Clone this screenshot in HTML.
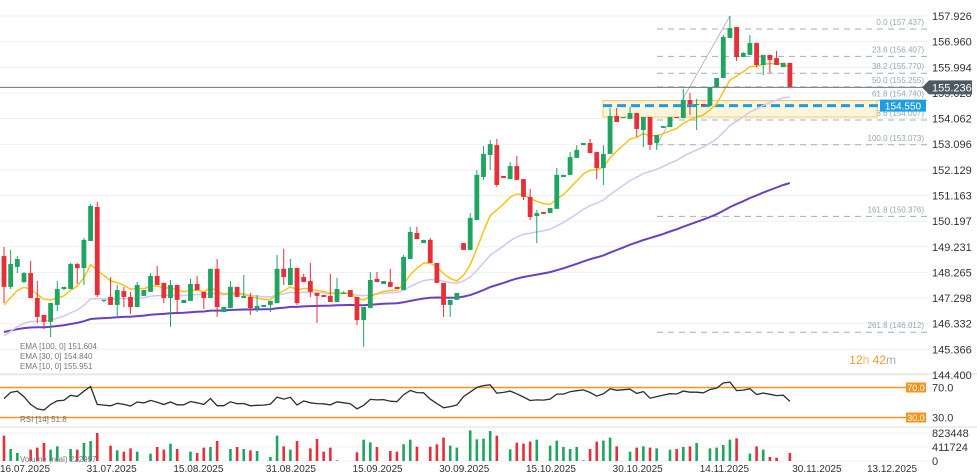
<!DOCTYPE html>
<html><head><meta charset="utf-8"><style>
html,body{margin:0;padding:0;background:#fff;}
svg{display:block;font-family:"Liberation Sans",sans-serif;}
</style></head><body>
<svg id="chart" width="977" height="476" viewBox="0 0 977 476" xmlns="http://www.w3.org/2000/svg">
<g id="grid"></g>
<g id="fib"></g>
<g id="zone"></g>
<g id="ema"></g>
<g id="candles"></g>
<g id="rsi"></g>
<g id="vol"></g>
<g id="axis"></g>
<g id="xaxis"></g>
<g id="legend">
<text x="20" y="349" font-size="8" fill="#777">EMA [100, 0] 151.604</text>
<text x="20" y="359" font-size="8" fill="#777">EMA [30, 0] 154.840</text>
<text x="20" y="369" font-size="8" fill="#777">EMA [10, 0] 155.951</text>
<text x="20" y="422" font-size="8" fill="#777">RSI [14] 51.8</text>
<text x="20" y="462" font-size="8" fill="#777">Volume (real) 222997</text>
<text x="896" y="364" font-size="12" fill="#f29a2e" text-anchor="end">12<tspan fill="#f5b46a">h</tspan> 42<tspan fill="#aaa">m</tspan></text>
</g>
</svg>
<script>
const opens=[148.88,147.72,148.47,147.90,148.24,147.30,146.66,146.40,147.04,147.64,147.64,148.58,148.43,149.45,150.73,147.19,147.34,147.04,147.56,147.34,146.96,147.38,147.53,148.13,147.87,147.30,147.79,147.11,147.19,147.83,147.53,147.30,148.40,146.77,146.92,147.72,147.30,147.34,146.89,146.96,147.04,147.11,148.40,147.79,148.43,148.09,147.94,147.49,147.41,147.38,147.15,147.49,147.60,147.34,146.47,146.92,148.02,147.83,147.90,147.72,147.60,148.77,149.75,149.37,149.49,148.62,147.87,147.04,147.23,149.37,149.11,150.24,151.86,152.69,153.06,151.90,151.78,152.27,151.78,151.11,150.39,150.54,150.50,150.66,151.86,151.94,152.58,153.06,153.14,152.80,152.20,152.73,154.16,154.08,154.05,154.27,153.63,154.12,153.14,153.71,153.74,154.12,154.08,154.76,154.57,154.61,154.54,155.25,155.59,157.10,157.51,156.38,156.46,156.91,156.08,156.46,156.34,156.00,156.16];
const highs=[149.22,149.11,148.88,148.28,148.70,147.94,146.66,147.11,147.94,147.72,148.62,148.62,149.56,150.84,150.92,147.23,148.09,147.79,147.72,147.53,147.90,147.60,148.24,148.51,147.87,147.98,147.79,147.23,148.02,148.13,147.53,148.40,148.77,146.96,147.94,147.72,148.17,147.49,147.41,147.04,147.19,148.92,149.15,148.77,148.43,148.21,148.62,147.49,147.41,148.21,148.06,147.56,147.60,147.34,146.96,148.28,148.28,147.94,148.40,147.72,148.92,149.98,149.98,149.49,149.56,148.62,147.87,147.23,147.49,149.37,150.50,152.12,153.03,153.25,153.29,151.90,152.42,152.65,151.78,151.41,150.62,150.54,150.69,152.20,151.94,152.80,153.06,153.14,153.29,152.80,153.06,154.46,154.46,154.12,154.50,154.27,154.12,154.12,153.44,153.78,154.12,154.12,155.18,155.03,154.80,154.61,155.25,155.59,157.21,157.93,157.51,156.57,157.21,156.91,156.46,156.46,156.61,156.16,156.16];
const lows=[147.11,147.64,148.24,147.87,147.30,146.36,146.13,145.83,146.81,147.60,147.64,147.83,147.79,149.45,147.34,147.15,147.04,146.62,146.96,146.70,146.96,147.38,147.53,147.79,147.11,146.21,146.74,147.11,147.19,147.60,146.89,147.30,146.59,146.77,146.92,147.34,147.30,146.66,146.77,146.96,146.77,147.11,147.79,147.79,147.04,147.90,147.34,146.36,147.34,147.15,147.15,147.45,147.34,146.28,145.46,146.92,147.90,147.83,147.72,147.64,147.60,148.77,149.52,149.37,148.62,147.87,146.59,146.59,147.23,149.11,149.11,150.24,151.75,152.12,151.48,151.82,151.78,151.75,150.99,150.24,149.37,150.47,150.50,150.66,151.86,151.94,152.58,153.06,152.76,151.78,151.56,152.73,153.93,154.08,154.05,153.37,152.99,152.88,152.88,153.71,153.74,154.08,154.08,154.20,153.63,154.54,154.54,155.25,155.59,157.10,156.23,156.38,156.46,156.00,155.70,155.78,156.08,156.00,155.24];
const closes=[147.72,148.58,148.77,148.24,147.30,146.59,146.40,147.11,147.64,147.72,148.58,148.43,149.49,150.77,147.41,147.23,147.04,147.60,147.34,146.96,147.79,147.60,148.13,147.79,147.30,147.79,147.23,147.23,147.83,147.60,147.30,148.40,146.96,146.96,147.72,147.34,147.38,146.92,147.00,147.04,147.19,148.40,148.09,148.43,147.11,147.90,147.53,147.38,147.34,147.15,147.64,147.49,147.34,146.47,146.96,147.98,147.90,147.94,147.72,147.64,148.85,149.79,149.52,149.49,148.62,147.87,147.04,147.23,147.49,149.11,150.32,151.94,152.73,153.10,151.56,151.82,152.27,151.75,151.11,150.35,150.50,150.47,150.69,151.94,151.94,152.61,152.88,153.14,152.76,152.20,152.73,154.16,153.93,154.12,154.27,153.67,154.12,153.07,153.44,153.78,154.12,154.08,154.76,154.61,154.61,154.54,155.25,155.59,157.14,157.47,156.38,156.53,156.91,156.08,156.46,156.27,156.08,156.16,155.24];
const volumes=[745,353,235,0,333,392,529,333,431,0,353,333,529,588,823,0,451,314,274,372,274,0,216,412,333,510,353,0,274,235,392,412,588,0,353,412,353,314,294,0,118,745,431,333,588,0,372,647,274,392,20,0,0,255,627,549,412,0,294,274,490,627,421,0,421,490,686,451,392,0,900,637,657,882,745,0,343,539,510,569,627,0,451,598,412,353,412,20,353,569,600,686,431,0,274,392,431,392,372,0,333,353,412,431,529,0,372,392,471,627,666,0,216,431,333,118,98,0,235];
const emaSeeds=[147.04,145.87,146.02];
const emaPeriods=[10,30,100];
const rsiSeedGain=[0.16];const rsiSeedLoss=[0.13];
const priceTicks=[157.926,156.960,155.994,155.028,154.062,153.096,152.129,151.163,150.197,149.231,148.265,147.298,146.332,145.366,144.400];
const fibPct=[0.0,23.6,38.2,50.0,61.8,78.6,100.0,161.8,261.8];
const fibPrice=[157.437,156.407,155.770,155.255,154.740,154.007,153.073,150.376,146.012];
const zoneTop=[154.74];const zoneBottom=[154.12];const alertLevel=[154.550];const lastPrice=[155.236];
const volTicks=[0,411724,823448];
const rsiLevels=[70,30];
const dateLabels=["16.07.2025","31.07.2025","15.08.2025","31.08.2025","15.09.2025","30.09.2025","15.10.2025","30.10.2025","14.11.2025","30.11.2025","13.12.2025"];

const NS="http://www.w3.org/2000/svg";
function mk(parent,tag,attrs){const e=document.createElementNS(NS,tag);for(const k in attrs)e.setAttribute(k,attrs[k]);parent.appendChild(e);return e;}
const X=i=>4+i*6.66;
const Y=p=>16+(157.926-p)*26.54;
const VY=v=>461-v/411724*14;
const RY=r=>387.5+(70-r)*0.75;
const DX=s=>{const [d,m,y]=s.split('.').map(Number);const t=Date.UTC(y,m-1,d);return 25+(t-Date.UTC(2025,6,16))/86400000*5.78;};
const G=id=>document.getElementById(id);
const UP="#1fa463",DN="#e5303a";

// grid + axis
priceTicks.forEach(p=>{
  const l=mk(G('grid'),'line',{x1:0,x2:928,y1:Y(p),y2:Y(p),stroke:"#efefef","stroke-width":1});
  
  
  const t=mk(G('axis'),'text',{x:932,y:Y(p)+4,"font-size":11,fill:"#333"});t.textContent=p.toFixed(3);
  
  
});
[374,427].forEach(y=>{const l=mk(G('grid'),'line',{x1:0,x2:977,y1:y,y2:y,stroke:"#ddd","stroke-width":1});
  
  });

// fib
fibPct.forEach((f,k)=>{
  const y=Y(fibPrice[k]);
  const l=mk(G('fib'),'line',{x1:657,x2:927,y1:y,y2:y,stroke:"#9fb0bb","stroke-width":1,"stroke-dasharray":"6,5"});
  
  
  const t=mk(G('fib'),'text',{x:924,y:y-4,"font-size":8,fill:"#98a6b0","text-anchor":"end"});
  t.textContent=f.toFixed(1)+" ("+fibPrice[k].toFixed(3)+")";
  
  
});
{const l=mk(G('fib'),'line',{x1:X(98),y1:Y(153.07),x2:X(109),y2:Y(157.93),stroke:"#aab","stroke-width":0.8});

}

// zone + alert + last price
{const r=mk(G('zone'),'rect',{x:603,y:Y(zoneTop[0]),width:274,height:Y(zoneBottom[0])-Y(zoneTop[0]),fill:"#fdf3d2","fill-opacity":0.8,stroke:"#f6c76a","stroke-width":1});


const l=mk(G('zone'),'line',{x1:603,x2:880,y1:Y(alertLevel[0]),y2:Y(alertLevel[0]),stroke:"#1d9de2","stroke-width":3,"stroke-dasharray":"9,5"});


const b=mk(G('zone'),'rect',{x:880,y:Y(alertLevel[0])-6,width:46,height:12,fill:"#1d9de2"});


const t=mk(G('zone'),'text',{x:903,y:Y(alertLevel[0])+4,"font-size":10,fill:"#fff","text-anchor":"middle"});t.textContent=alertLevel[0].toFixed(3);


const lp=mk(G('axis'),'line',{x1:0,x2:928,y1:Y(lastPrice[0]),y2:Y(lastPrice[0]),stroke:"#6b7680","stroke-width":1});


const yy=Y(lastPrice[0]);
const pb=mk(G('axis'),'path',{d:`M922 ${yy} L929 ${yy-7} L972 ${yy-7} L972 ${yy+7} L929 ${yy+7} Z`,fill:"#4e5a63"});


const pt=mk(G('axis'),'text',{x:932,y:yy+4,"font-size":11,fill:"#fff"});pt.textContent=lastPrice[0].toFixed(3);

}

// EMAs
const emaColors=["#f6c417","#d2c7ee","#6b3fc2"],emaW=[1.5,1.5,2];
[2,1,0].forEach(k=>{
  const a=2/(emaPeriods[k]+1);let e=emaSeeds[k];const pts=[];
  closes.forEach((c,i)=>{if(i>0)e=e+a*(c-e);pts.push(X(i).toFixed(1)+","+Y(e).toFixed(1));});
  const pl=mk(G('ema'),'polyline',{points:pts.join(" "),fill:"none",stroke:emaColors[k],"stroke-width":emaW[k]});
  
  
});

// candles
closes.forEach((c,i)=>{
  const o=opens[i],up=c>=o,col=up?UP:DN,x=X(i);
  const w=mk(G('candles'),'line',{x1:x,x2:x,y1:Y(highs[i]),y2:Y(lows[i]),stroke:col,"stroke-width":1});
  
  
  const t=Y(Math.max(o,c)),b=Y(Math.min(o,c));
  const r=mk(G('candles'),'rect',{x:x-2.4,y:t,width:4.8,height:Math.max(1,b-t),fill:col});
  
  
});

// RSI
rsiLevels.forEach(v=>{
  const l=mk(G('rsi'),'line',{x1:0,x2:906,y1:RY(v),y2:RY(v),stroke:"#f7941d","stroke-width":1.5});
  
  
  const b=mk(G('rsi'),'rect',{x:906,y:RY(v)-5,width:20,height:10,fill:"#f7941d"});
  
  
  const t=mk(G('rsi'),'text',{x:916,y:RY(v)+3.5,"font-size":9,fill:"#fff","text-anchor":"middle"});t.textContent=v.toFixed(1);
  
  
  const a=mk(G('rsi'),'text',{x:932,y:RY(v)+4,"font-size":11,fill:"#333"});a.textContent=v.toFixed(1);
  
  
});
{let ag=rsiSeedGain[0],al=rsiSeedLoss[0];const pts=[];
closes.forEach((c,i)=>{if(i>0){const d=c-closes[i-1];ag=(ag*13+Math.max(d,0))/14;al=(al*13+Math.max(-d,0))/14;}
  const r=100-100/(1+ag/Math.max(al,1e-6));pts.push(X(i).toFixed(1)+","+RY(r).toFixed(1));});
const pl=mk(G('rsi'),'polyline',{points:pts.join(" "),fill:"none",stroke:"#2b2f33","stroke-width":1.3});

}

// volume
volTicks.forEach(v=>{
  const t=mk(G('vol'),'text',{x:932,y:VY(v)+4,"font-size":11,fill:"#333"});t.textContent=String(v);
  
  
  const l=mk(G('grid'),'line',{x1:0,x2:928,y1:VY(v),y2:VY(v),stroke:"#f2f2f2","stroke-width":1});
  
  
});
volumes.forEach((v,i)=>{if(!v)return;
  const up=closes[i]>=opens[i];const val=v*1000;
  const r=mk(G('vol'),'rect',{x:X(i)-1.3,y:VY(val),width:2.6,height:461-VY(val),fill:up?UP:DN});
  
  
});

// dates
dateLabels.forEach(s=>{
  const t=mk(G('xaxis'),'text',{x:DX(s),y:472,"font-size":10,fill:"#333","text-anchor":"middle"});t.textContent=s;
  
  
});
</script>
</body></html>
